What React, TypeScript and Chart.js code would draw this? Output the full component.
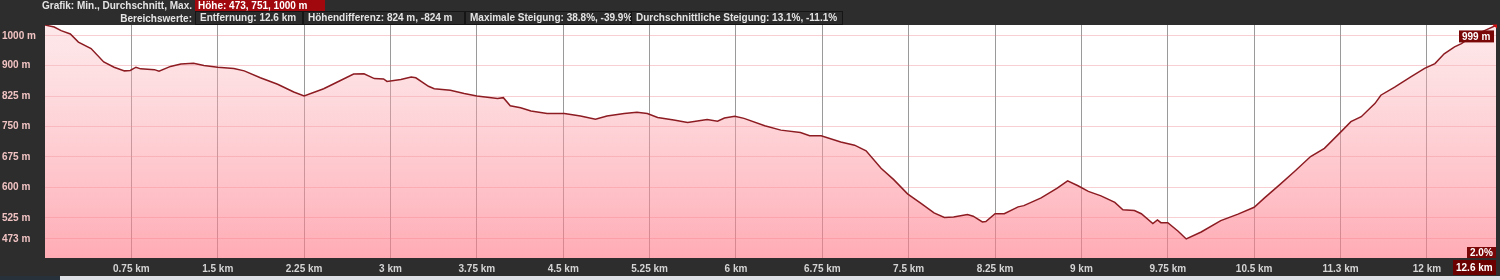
import React, { useEffect, useRef } from "react";
import { Chart, registerables } from "chart.js";

Chart.register(...registerables);

// ---- data ----
const distanceKm = [
  0.0, 0.08, 0.14, 0.22, 0.29, 0.4, 0.51, 0.6, 0.69, 0.74, 0.79, 0.83, 0.95, 0.99,
  1.09, 1.18, 1.29, 1.38, 1.5, 1.64, 1.73, 1.87, 2.02, 2.16, 2.25, 2.42, 2.57, 2.68,
  2.77, 2.86, 2.94, 2.97, 3.09, 3.18, 3.22, 3.33, 3.38, 3.52, 3.64, 3.75, 3.93, 3.98,
  4.04, 4.13, 4.22, 4.36, 4.51, 4.65, 4.78, 4.88, 5.03, 5.14, 5.23, 5.32, 5.46, 5.58,
  5.75, 5.84, 5.9, 5.99, 6.07, 6.25, 6.39, 6.56, 6.64, 6.74, 6.91, 7.03, 7.13, 7.26,
  7.37, 7.49, 7.61, 7.72, 7.81, 7.89, 8.01, 8.06, 8.14, 8.17, 8.25, 8.33, 8.45, 8.5,
  8.65, 8.79, 8.88, 8.97, 9.06, 9.17, 9.29, 9.36, 9.46, 9.52, 9.62, 9.66, 9.69, 9.75,
  9.84, 9.91, 10.04, 10.21, 10.36, 10.5, 10.59, 10.72, 10.85, 10.99, 11.11, 11.24,
  11.34, 11.43, 11.55, 11.6, 11.72, 11.86, 11.98, 12.07, 12.15, 12.24, 12.3, 12.38,
  12.5, 12.6,
];
const elevationM = [
  1000, 995, 986, 978, 958, 942, 909, 896, 887, 888, 896, 892, 890, 886,
  898, 904, 906, 900, 896, 893, 887, 870, 854, 835, 825, 843, 864, 879,
  880, 868, 867, 861, 866, 872, 870, 849, 843, 839, 831, 825, 819, 821,
  801, 796, 788, 782, 782, 776, 768, 776, 782, 785, 782, 772, 766, 760,
  767, 763, 771, 775, 770, 752, 741, 735, 727, 727, 712, 704, 690, 647,
  619, 584, 560, 537, 526, 527, 533, 529, 515, 516, 535, 535, 552, 555,
  574, 598, 616, 604, 590, 579, 563, 545, 543, 535, 511, 520, 513, 513,
  492, 473, 490, 518, 534, 551, 574, 606, 639, 676, 696, 733,
  762, 774, 807, 827, 847, 872, 893, 905, 929, 946, 954, 970,
  986, 999,
];
const xTickValues = [0.75, 1.5, 2.25, 3, 3.75, 4.5, 5.25, 6, 6.75, 7.5, 8.25, 9, 9.75, 10.5, 11.25, 12];
const xTickLabels = [
  "0.75 km", "1.5 km", "2.25 km", "3 km", "3.75 km", "4.5 km", "5.25 km", "6 km",
  "6.75 km", "7.5 km", "8.25 km", "9 km", "9.75 km", "10.5 km", "11.3 km", "12 km",
];
const yTickValues = [973, 900, 825, 750, 675, 600, 525, 473];
const yTickLabels = ["1000 m", "900 m", "825 m", "750 m", "675 m", "600 m", "525 m", "473 m"];

const headerLine1Label = "Grafik: Min., Durchschnitt, Max.";
const headerLine1Value = "Höhe: 473, 751, 1000 m";
const headerLine2Label = "Bereichswerte:";
const headerLine2Values = [
  "Entfernung: 12.6 km",
  "Höhendifferenz: 824 m, -824 m",
  "Maximale Steigung: 38.8%, -39.9%",
  "Durchschnittliche Steigung: 13.1%, -11.1%",
];
const endElevationLabel = "999 m";
const endSlopeLabel = "2.0%";
const endDistanceLabel = "12.6 km";

const FONT = '"Liberation Sans", Arial, sans-serif';

const boxLefts = [195, 303, 465, 631];
const boxWidths = [108, 162, 166, 212];

export default function App() {
  const canvasRef = useRef<HTMLCanvasElement | null>(null);

  useEffect(() => {
    const canvas = canvasRef.current;
    if (!canvas) return;

    const plotBg = {
      id: "plotBg",
      beforeDraw(chart: any) {
        const { ctx, chartArea } = chart;
        ctx.save();
        ctx.fillStyle = "#ffffff";
        ctx.fillRect(chartArea.left, chartArea.top, chartArea.right - chartArea.left, chartArea.bottom - chartArea.top);
        ctx.restore();
      },
    };

    const endLabels = {
      id: "endLabels",
      afterDraw(chart: any) {
        const { ctx, chartArea, scales } = chart;
        const n = distanceKm.length - 1;
        const px = scales.x.getPixelForValue(distanceKm[n]);
        const py = scales.y.getPixelForValue(elevationM[n]);
        ctx.save();
        ctx.font = `bold 10px ${FONT}`;
        ctx.textBaseline = "middle";
        ctx.textAlign = "left";
        const drawBox = (text: string, right: number, top: number, h: number, bg: string) => {
          const w = Math.ceil(ctx.measureText(text).width) + 6;
          ctx.fillStyle = bg;
          ctx.fillRect(right - w, top, w, h);
          ctx.fillStyle = "#ffffff";
          ctx.fillText(text, right - w + 3, top + h / 2 + 0.5);
        };
        // elevation label near the end point
        drawBox(endElevationLabel, px - 2, py + 5, 12, "#7a0708");
        // small end marker
        ctx.fillStyle = "#d01010";
        ctx.beginPath();
        ctx.moveTo(px - 4, py - 1);
        ctx.lineTo(px + 1, py - 1);
        ctx.lineTo(px + 1, py + 3);
        ctx.closePath();
        ctx.fill();
        // slope label bottom right of plot
        drawBox(endSlopeLabel, chartArea.right, chartArea.bottom - 11, 11, "#7a0708");
        // distance label in axis band
        drawBox(endDistanceLabel, chartArea.right, chartArea.bottom + 2, 15, "#6a0000");
        ctx.restore();
      },
    };

    const chart = new Chart(canvas, {
      type: "line",
      data: {
        datasets: [
          {
            data: distanceKm.map((d, i) => ({ x: d, y: elevationM[i] })),
            borderColor: "#8c1c22",
            borderWidth: 1.5,
            pointRadius: 0,
            tension: 0,
            fill: "start",
            backgroundColor: (ctx: any) => {
              const { chart } = ctx;
              const area = chart.chartArea;
              if (!area) return "rgba(255,150,160,0.4)";
              const g = chart.ctx.createLinearGradient(0, area.top, 0, area.bottom);
              g.addColorStop(0, "rgba(250,185,190,0.32)");
              g.addColorStop(1, "rgba(255,120,135,0.62)");
              return g;
            },
          },
        ],
      },
      options: {
        responsive: false,
        animation: false,
        devicePixelRatio: 1,
        layout: { padding: { top: 25, left: 2, right: 4, bottom: 0 } },
        plugins: {
          legend: { display: false },
          tooltip: { enabled: false },
          title: { display: false },
        },
        scales: {
          x: {
            type: "linear",
            min: 0,
            max: 12.6,
            afterBuildTicks: (s: any) => {
              s.ticks = xTickValues.map((v) => ({ value: v }));
            },
            afterFit: (s: any) => {
              s.height = 22;
            },
            ticks: {
              autoSkip: false,
              maxRotation: 0,
              padding: 5,
              color: "#d4d4d4",
              font: { family: FONT, size: 10, weight: "bold" },
              callback: (_v: any, i: number) => xTickLabels[i],
            },
            grid: { color: "rgba(120,120,120,0.75)", lineWidth: 1, drawTicks: false },
            border: { display: false },
          },
          y: {
            type: "linear",
            min: 426,
            max: 1000,
            afterBuildTicks: (s: any) => {
              s.ticks = yTickValues.map((v) => ({ value: v }));
            },
            afterFit: (s: any) => {
              s.width = 43;
            },
            ticks: {
              autoSkip: false,
              crossAlign: "far",
              padding: 4,
              color: "#f1c3c3",
              font: { family: FONT, size: 10, weight: "bold" },
              callback: (_v: any, i: number) => yTickLabels[i],
            },
            grid: { color: "rgba(235,120,130,0.35)", lineWidth: 1, drawTicks: false },
            border: { display: false },
          },
        },
      } as any,
      plugins: [plotBg, endLabels],
    });

    return () => {
      chart.destroy();
    };
  }, []);

  const textStyle: React.CSSProperties = {
    position: "absolute",
    fontFamily: FONT,
    fontWeight: "bold",
    fontSize: 10,
    color: "#e4e4e4",
    whiteSpace: "nowrap",
  };

  return (
    <div
      style={{
        position: "absolute",
        left: 0,
        top: 0,
        width: 1500,
        height: 280,
        background: "#2d2d2d",
        overflow: "hidden",
      }}
    >
      <canvas
        ref={canvasRef}
        width={1500}
        height={280}
        style={{ position: "absolute", left: 0, top: 0, width: 1500, height: 280 }}
      />
      {/* header row 1 */}
      <div style={{ ...textStyle, right: 1500 - 192, top: 0, height: 11, lineHeight: "11px" }}>{headerLine1Label}</div>
      <div
        style={{
          ...textStyle,
          left: 195,
          top: 0,
          width: 130,
          height: 11,
          lineHeight: "11px",
          background: "#a1080d",
          color: "#ffffff",
          paddingLeft: 3,
          boxSizing: "border-box",
        }}
      >
        {headerLine1Value}
      </div>
      {/* header row 2 */}
      <div style={{ ...textStyle, right: 1500 - 192, top: 12, height: 13, lineHeight: "13px" }}>{headerLine2Label}</div>
      {headerLine2Values.map((t, i) => (
        <div
          key={t}
          style={{
            ...textStyle,
            left: boxLefts[i],
            top: 11,
            width: boxWidths[i],
            height: 14,
            lineHeight: "12px",
            border: "1px solid #151515",
            boxSizing: "border-box",
            paddingLeft: 4,
            background: "#2b2b2b",
          }}
        >
          {t}
        </div>
      ))}
      {/* bottom strip of the window below */}
      <div style={{ position: "absolute", left: 0, top: 276, width: 60, height: 4, background: "#27313c" }} />
      <div style={{ position: "absolute", left: 60, top: 276, width: 1440, height: 4, background: "#dde1e6" }} />
    </div>
  );
}
